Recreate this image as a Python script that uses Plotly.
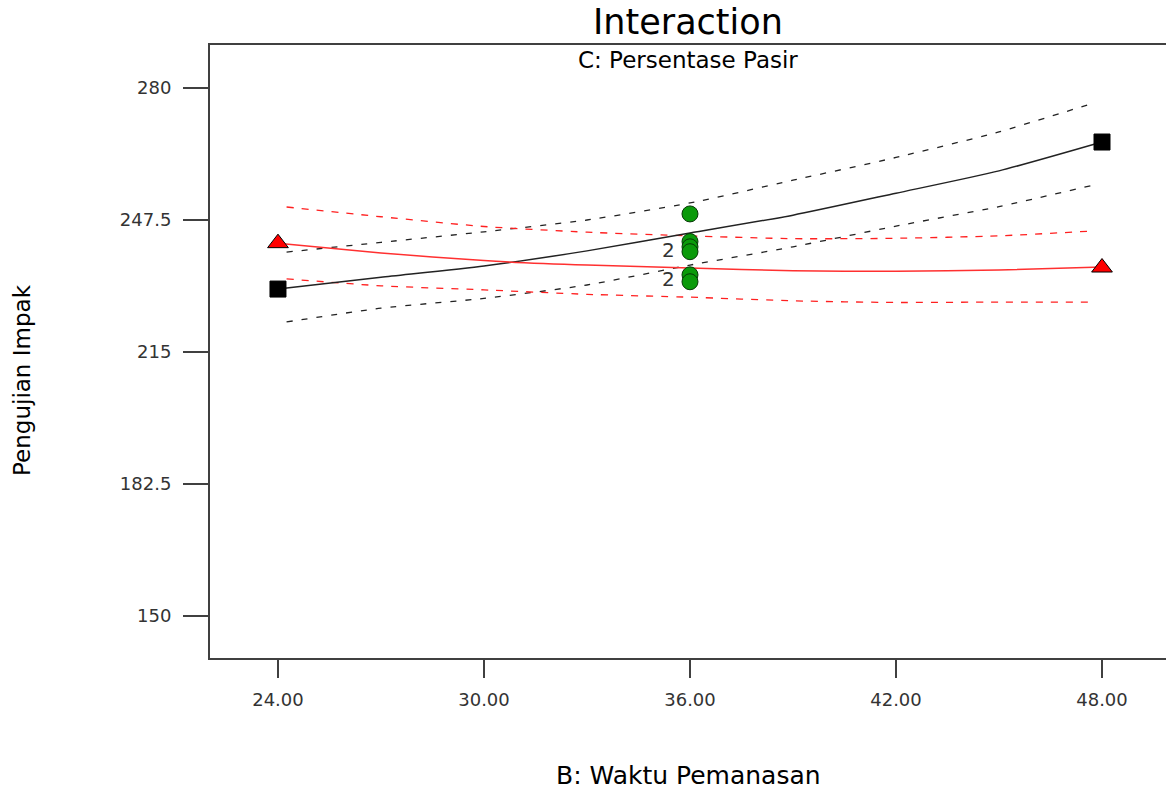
import plotly.graph_objects as go

# ---- data ----
x_line = [24, 27, 30, 33, 36, 39, 42, 45, 48]
x_ci = [24.25, 27, 30, 33, 36, 39, 42, 45, 47.75]

black_pred = [230.5, 233.4, 236.2, 239.9, 244.3, 248.7, 254.1, 259.6, 266.7]
black_upper = [239.6, 242.0, 244.6, 247.5, 251.7, 257.3, 262.9, 269.2, 276.3]
black_lower = [222.4, 225.8, 228.2, 231.5, 236.4, 240.9, 246.0, 250.8, 256.1]

red_pred = [241.8, 239.4, 237.5, 236.4, 235.7, 235.0, 234.9, 235.2, 235.9]
red_upper = [250.7, 248.3, 245.9, 244.5, 243.6, 242.9, 243.0, 243.6, 244.8]
red_lower = [233.0, 231.3, 230.3, 229.2, 228.5, 227.6, 227.2, 227.3, 227.3]

end_x = [24, 48]
black_ends = [230.5, 266.7]
red_ends = [241.8, 235.8]

center_x = [36, 36, 36, 36, 36, 36]
center_y = [249.0, 242.2, 240.9, 239.7, 234.0, 232.3]
count_labels_y = [240.0, 233.0]
count_labels = ["2", "2"]

x_ticks = [24, 30, 36, 42, 48]
y_ticks = [150, 182.5, 215, 247.5, 280]
y_tick_text = ["150", "182.5", "215", "247.5", "280"]

FONT = "DejaVu Sans, Arial, sans-serif"
AXC = "#404040"

fig = go.Figure()

dash_black = "6px,9px"
dash_red = "7px,8px"

fig.add_trace(go.Scatter(x=x_ci, y=black_upper, mode="lines",
                         line=dict(color="#222222", width=1.3, dash=dash_black, shape="spline", smoothing=0.6)))
fig.add_trace(go.Scatter(x=x_ci, y=black_lower, mode="lines",
                         line=dict(color="#222222", width=1.3, dash=dash_black, shape="spline", smoothing=0.6)))
fig.add_trace(go.Scatter(x=x_ci, y=red_upper, mode="lines",
                         line=dict(color="#ff2020", width=1.3, dash=dash_red, shape="spline", smoothing=0.6)))
fig.add_trace(go.Scatter(x=x_ci, y=red_lower, mode="lines",
                         line=dict(color="#ff2020", width=1.3, dash=dash_red, shape="spline", smoothing=0.6)))
fig.add_trace(go.Scatter(x=x_line, y=black_pred, mode="lines",
                         line=dict(color="#222222", width=1.5, shape="spline", smoothing=0.6)))
fig.add_trace(go.Scatter(x=x_line, y=red_pred, mode="lines",
                         line=dict(color="#ff3030", width=1.5, shape="spline", smoothing=0.6)))

fig.add_trace(go.Scatter(x=end_x, y=black_ends, mode="markers",
                         marker=dict(symbol="square", size=16, color="black",
                                     line=dict(color="black", width=1))))
fig.add_trace(go.Scatter(x=end_x, y=red_ends, mode="markers",
                         marker=dict(symbol="triangle-up", size=18, color="#ff0000",
                                     line=dict(color="black", width=1))))
fig.add_trace(go.Scatter(x=center_x, y=center_y, mode="markers",
                         marker=dict(symbol="circle", size=16, color="#0a9a0a",
                                     line=dict(color="#063806", width=1))))

annotations = []
for yv, t in zip(count_labels_y, count_labels):
    annotations.append(dict(x=36, y=yv, xref="x", yref="y", text=t, showarrow=False,
                            xshift=-21, font=dict(family=FONT, size=20, color="#333333")))

annotations += [
    dict(x=0.5, y=1.0375, xref="paper", yref="paper", text="Interaction", showarrow=False,
         font=dict(family=FONT, size=35, color="black"), yanchor="middle"),
    dict(x=0.5, y=0.9755, xref="paper", yref="paper", text="C: Persentase Pasir", showarrow=False,
         font=dict(family=FONT, size=23, color="black"), yanchor="middle"),
    dict(x=0.5, y=-0.1909, xref="paper", yref="paper", text="B: Waktu Pemanasan", showarrow=False,
         font=dict(family=FONT, size=25, color="black"), yanchor="middle"),
    dict(x=-0.1967, y=0.4535, xref="paper", yref="paper", text="Pengujian Impak", showarrow=False,
         textangle=-90, font=dict(family=FONT, size=23, color="black"),
         xanchor="center", yanchor="middle"),
]

fig.update_layout(
    width=1166, height=791,
    margin=dict(l=210, r=0, t=45, b=133),
    paper_bgcolor="white", plot_bgcolor="white",
    showlegend=False,
    annotations=annotations,
    xaxis=dict(range=[22.02, 49.864], tickvals=x_ticks, tickformat=".2f",
               showgrid=False, zeroline=False,
               showline=True, linecolor=AXC, linewidth=2, mirror=True,
               ticks="outside", ticklen=18, tickwidth=1.5, tickcolor=AXC,
               ticklabelstandoff=6,
               tickfont=dict(family=FONT, size=18, color="#333333")),
    yaxis=dict(range=[139.66, 290.59], tickvals=y_ticks, ticktext=y_tick_text,
               showgrid=False, zeroline=False,
               showline=True, linecolor=AXC, linewidth=2, mirror=False,
               ticks="outside", ticklen=25, tickwidth=1.5, tickcolor=AXC,
               ticklabelstandoff=8,
               tickfont=dict(family=FONT, size=18, color="#333333")),
)

fig.write_html("out.html", config={"displayModeBar": False})
